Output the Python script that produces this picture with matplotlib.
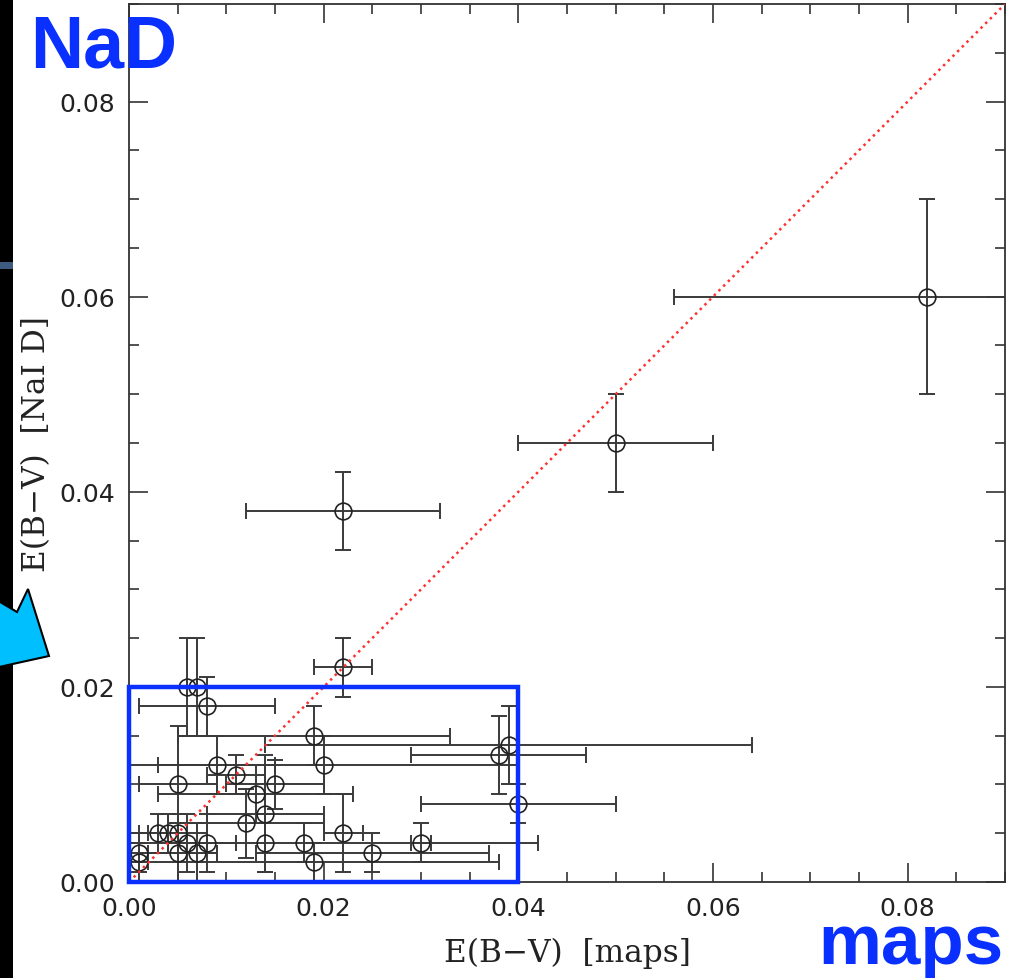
import numpy as np
import matplotlib
matplotlib.use('Agg')
import matplotlib.pyplot as plt
from matplotlib.patches import Rectangle, Polygon

# E(B-V) from the dust maps vs. from NaI D
ebv_maps = [0.082, 0.050, 0.022, 0.022, 0.006, 0.007, 0.008, 0.019, 0.020, 0.009,
            0.011, 0.005, 0.015, 0.013, 0.014, 0.012, 0.003, 0.004, 0.005, 0.006,
            0.008, 0.005, 0.007, 0.001, 0.001, 0.014, 0.018, 0.019, 0.022, 0.025,
            0.030, 0.038, 0.039, 0.040]
ebv_nad = [0.060, 0.045, 0.038, 0.022, 0.020, 0.020, 0.018, 0.015, 0.012, 0.012,
           0.011, 0.010, 0.010, 0.009, 0.007, 0.006, 0.005, 0.005, 0.005, 0.004,
           0.004, 0.003, 0.003, 0.003, 0.002, 0.004, 0.004, 0.002, 0.005, 0.003,
           0.004, 0.013, 0.014, 0.008]
err_maps = [0.026, 0.010, 0.010, 0.003, 0.000, 0.000, 0.007, 0.014, 0.020, 0.006,
            0.003, 0.004, 0.005, 0.010, 0.006, 0.008, 0.002, 0.001, 0.003, 0.002,
            0.003, 0.004, 0.002, 0.001, 0.001, 0.000, 0.024, 0.019, 0.002, 0.012,
            0.001, 0.009, 0.025, 0.010]
err_nad = [0.010, 0.005, 0.004, 0.003, 0.005, 0.005, 0.003, 0.003, 0.003, 0.003,
           0.002, 0.006, 0.0025, 0.003, 0.006, 0.0035, 0.002, 0.002, 0.002, 0.003,
           0.003, 0.003, 0.003, 0.002, 0.002, 0.003, 0.002, 0.002, 0.004, 0.002,
           0.002, 0.004, 0.004, 0.002]

W, H = 1014, 979
fig = plt.figure(figsize=(W/100, H/100), dpi=100)
fig.patch.set_facecolor('white')

ax = fig.add_axes([129/W, 1-883/H, (1005-129)/W, (883-5)/H])
ax.set_xlim(0, 0.09)
ax.set_ylim(0, 0.09)

ax.errorbar(ebv_maps, ebv_nad, xerr=err_maps, yerr=err_nad, fmt='none',
            ecolor='#3a3a3a', elinewidth=1.4, capsize=6, capthick=1.4, zorder=2)
ax.plot(ebv_maps, ebv_nad, 'o', ms=12, mfc='none', mec='#222222', mew=1.2, zorder=3)

# one-to-one line
ax.plot([0, 0.09], [0, 0.09], ls=':', color='#ff3030', lw=1.8, zorder=4)

# highlight box
ax.add_patch(Rectangle((0, 0), 0.04, 0.02, fill=False, ec='#0a30ff', lw=3.2, zorder=5, clip_on=False))

ax.set_xticks([0, 0.02, 0.04, 0.06, 0.08])
ax.set_yticks([0, 0.02, 0.04, 0.06, 0.08])
ax.set_xticks(np.arange(0, 0.0901, 0.005), minor=True)
ax.set_yticks(np.arange(0, 0.0901, 0.005), minor=True)
ax.set_xticklabels(['0.00', '0.02', '0.04', '0.06', '0.08'])
ax.set_yticklabels(['0.00', '0.02', '0.04', '0.06', '0.08'])
ax.tick_params(which='both', direction='in', top=True, right=True, color='#333333', width=1.2)
ax.tick_params(which='major', length=14, labelsize=18, pad=10, labelcolor='#222222')
ax.tick_params(which='minor', length=7)
for s in ax.spines.values():
    s.set_color('#333333')
    s.set_linewidth(1.3)

ax.set_xlabel('E(B\u2212V)  [maps]', family='DejaVu Serif', fontsize=22.5, color='#222222')
ax.set_ylabel('E(B\u2212V)  [NaI D]', family='DejaVu Serif', fontsize=22.5, color='#222222')
ax.xaxis.set_label_coords(0.5, -0.062)
ax.yaxis.set_label_coords(-0.088, 0.5)

# slide decorations
fig.add_artist(Rectangle((0, 0), 13/W, 1, transform=fig.transFigure, fc='black', ec='none', zorder=6))
fig.add_artist(Rectangle((0, 1-270/H), 13/W, 7/H, transform=fig.transFigure, fc='#3d5a80', ec='none', zorder=7))
arrow_px = [(-10, 597), (17, 613), (28, 590), (49, 657), (-10, 670)]
fig.add_artist(Polygon([(px/W, 1-py/H) for px, py in arrow_px], closed=True,
                       transform=fig.transFigure, fc='#00bfff', ec='black', lw=1.5, zorder=8))

fig.text(30/W, 1-68/H, 'NaD', family='Liberation Sans', weight='bold', fontsize=53,
         color='#0a30ff', va='baseline', zorder=9)
fig.text(1003/W, 1-964/H, 'maps', family='Liberation Sans', weight='bold', fontsize=51,
         color='#0a30ff', ha='right', va='baseline', zorder=9)

fig.savefig('out.png', dpi=100)
